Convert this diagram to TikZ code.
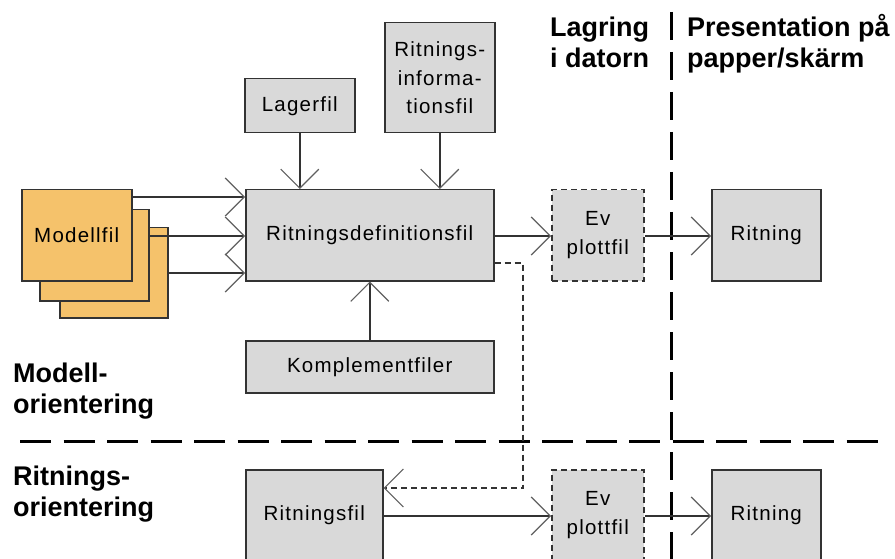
\documentclass[tikz,border=0pt]{standalone}
\usepackage{fontspec}
\setmainfont{Liberation Sans}
\newfontfamily\boxfont[LetterSpace=6]{Liberation Sans}
\usetikzlibrary{arrows.meta}

\definecolor{boxgray}{HTML}{D9D9D9}
\definecolor{modelorange}{HTML}{F5C26B}
\definecolor{edge}{HTML}{333333}
\definecolor{tipgray}{HTML}{606060}

\tikzset{
  filebox/.style={draw=edge, line width=1.5pt, fill=boxgray, inner sep=0pt,
    align=center, anchor=north west,
    font=\boxfont\fontsize{20.5}{28.5}\selectfont},
  optbox/.style={filebox, dash pattern=on 6pt off 4pt},
  modelbox/.style={filebox, fill=modelorange},
  heading/.style={inner sep=0pt, align=left, anchor=base west,
    font=\fontsize{27}{31}\selectfont\bfseries},
  conn/.style={draw=edge, line width=1.5pt,
    -{Straight Barb[length=19pt, width=38pt, line width=1.2pt, color=tipgray]}},
  dconn/.style={conn, dash pattern=on 6pt off 4pt},
  divider/.style={draw=black, line width=3pt}
}

\begin{document}
\begin{tikzpicture}[x=1pt, y=-1pt]
  \useasboundingbox (0,0) rectangle (895,559);
  \clip (0,0) rectangle (895,559);

  % column and row dividers
  \draw[divider, dash pattern=on 28pt off 12pt] (671,12) -- (671,575);
  \draw[divider, dash pattern=on 31pt off 12.5pt] (20,441) -- (884,441);

  % headings (anchored at the baseline of their last line)
  \node[heading] (hlag)  at (550,68)  {Lagring\\i datorn};
  \node[heading] (hpres) at (687,68)  {Presentation på\\papper/skärm};
  \node[heading] (hmod)  at (13,413)  {Modell-\\orientering};
  \node[heading] (hrit)  at (13,516)  {Ritnings-\\orientering};

  % model files (stacked)
  \node[modelbox, minimum width=108pt, minimum height=90pt] (m3) at (59,227) {};
  \node[modelbox, minimum width=109pt, minimum height=91pt] (m2) at (39,209) {};
  \node[modelbox, minimum width=110pt, minimum height=91pt] (m1) at (21,189) {Modellfil};

  % model-oriented row
  \node[filebox, minimum width=110pt, minimum height=54pt]  (lf)  at (244,78)  {Lagerfil};
  \node[filebox, minimum width=110pt, minimum height=110pt] (ri)  at (384,22)  {Ritnings-\\informa-\\tionsfil};
  \node[filebox, minimum width=248pt, minimum height=91pt]  (rd)  at (245,189) {Ritningsdefinitionsfil};
  \node[filebox, minimum width=248pt, minimum height=52pt]  (kf)  at (245,340) {Komplementfiler};
  \node[optbox,  minimum width=92pt,  minimum height=91pt]  (ev1) at (551,189) {Ev\\plottfil};
  \node[filebox, minimum width=109pt, minimum height=91pt]  (r1)  at (711,189) {Ritning};

  % drawing-oriented row
  \node[filebox, minimum width=137pt, minimum height=91pt]  (rf)  at (245,469) {Ritningsfil};
  \node[optbox,  minimum width=92pt,  minimum height=91pt]  (ev2) at (551,469) {Ev\\plottfil};
  \node[filebox, minimum width=109pt, minimum height=91pt]  (r2)  at (711,469) {Ritning};

  % helper levels for the connectors
  \coordinate (ya) at (0,197);
  \coordinate (yb) at (0,236);
  \coordinate (yc) at (0,273);
  \coordinate (yd) at (0,516);
  \coordinate (ye) at (0,263);
  \coordinate (yf) at (0,488);
  \coordinate (xk) at (523,0);

  % connectors
  \draw[conn] (m1.east |- ya) -- (rd.west |- ya);
  \draw[conn] (m2.east |- yb) -- (rd.west |- yb);
  \draw[conn] (m3.east |- yc) -- (rd.west |- yc);
  \draw[conn] (lf.south) -- (lf.south |- rd.north);
  \draw[conn] (ri.south) -- (ri.south |- rd.north);
  \draw[conn] (kf.north) -- (kf.north |- rd.south);
  \draw[conn] (rd.east |- yb) -- (ev1.west |- yb);
  \draw[conn] (ev1.east |- yb) -- (r1.west |- yb);
  \draw[dconn] (rd.east |- ye) -- (xk |- ye) -- (xk |- yf) -- (rf.east |- yf);
  \draw[conn] (rf.east |- yd) -- (ev2.west |- yd);
  \draw[conn] (ev2.east |- yd) -- (r2.west |- yd);
\end{tikzpicture}
\end{document}
